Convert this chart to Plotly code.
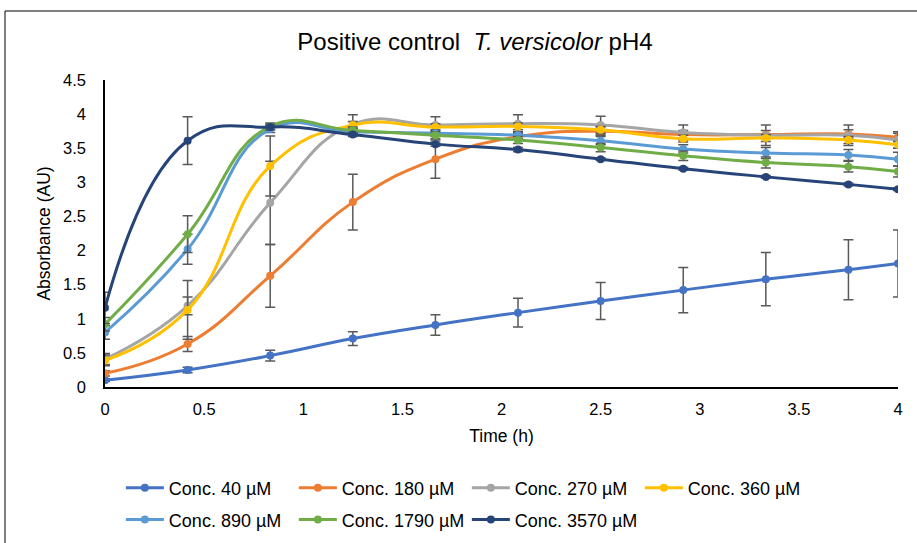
import plotly.graph_objects as go

time_h = [0, 0.4167, 0.8333, 1.25, 1.6667, 2.0833, 2.5, 2.9167, 3.3333, 3.75, 4.0]

series_names = ["Conc. 40 µM", "Conc. 180 µM", "Conc. 270 µM", "Conc. 360 µM",
                "Conc. 890 µM", "Conc. 1790 µM", "Conc. 3570 µM"]

conc_40 = [0.10, 0.25, 0.46, 0.71, 0.91, 1.09, 1.26, 1.42, 1.58, 1.72, 1.81]
conc_180 = [0.20, 0.63, 1.63, 2.71, 3.34, 3.67, 3.75, 3.70, 3.70, 3.71, 3.66]
conc_270 = [0.41, 1.19, 2.70, 3.85, 3.84, 3.86, 3.84, 3.73, 3.69, 3.69, 3.62]
conc_360 = [0.39, 1.13, 3.24, 3.84, 3.81, 3.82, 3.77, 3.64, 3.65, 3.62, 3.55]
conc_890 = [0.80, 2.02, 3.78, 3.74, 3.72, 3.69, 3.61, 3.49, 3.43, 3.40, 3.34]
conc_1790 = [0.92, 2.24, 3.82, 3.76, 3.69, 3.62, 3.51, 3.39, 3.29, 3.23, 3.16]
conc_3570 = [1.16, 3.61, 3.81, 3.70, 3.56, 3.48, 3.34, 3.20, 3.08, 2.97, 2.90]

err_40 = [0.02, 0.04, 0.08, 0.10, 0.15, 0.21, 0.27, 0.33, 0.39, 0.44, 0.49]
err_180 = [0.04, 0.11, 0.46, 0.41, 0.28, 0.05, 0.06, 0.06, 0.06, 0.06, 0.06]
err_270 = [0.08, 0.13, 0.61, 0.14, 0.12, 0.13, 0.13, 0.11, 0.15, 0.15, 0.12]
err_360 = [0.08, 0.43, 0.44, 0.05, 0.05, 0.05, 0.05, 0.05, 0.05, 0.05, 0.05]
err_890 = [0.10, 0.22, 0.05, 0.05, 0.05, 0.05, 0.06, 0.06, 0.08, 0.08, 0.10]
err_1790 = [0.10, 0.27, 0.05, 0.05, 0.05, 0.05, 0.06, 0.07, 0.08, 0.08, 0.08]
err_3570 = [0.23, 0.35, 0.04, 0.03, 0.03, 0.03, 0.02, 0.02, 0.02, 0.02, 0.02]

colors = ["#4472C4", "#ED7D31", "#A5A5A5", "#FFC000", "#5B9BD5", "#70AD47", "#264478"]

values = [conc_40, conc_180, conc_270, conc_360, conc_890, conc_1790, conc_3570]
errors = [err_40, err_180, err_270, err_360, err_890, err_1790, err_3570]

y_ticks = [0, 0.5, 1, 1.5, 2, 2.5, 3, 3.5, 4, 4.5]
x_ticks = [0, 0.5, 1, 1.5, 2, 2.5, 3, 3.5, 4]

FONT = "Liberation Sans, Arial, sans-serif"

fig = go.Figure()
for i, (name, vals, errs, col) in enumerate(zip(series_names, values, errors, colors)):
    fig.add_trace(go.Scatter(
        x=time_h, y=vals, name=name, mode="lines+markers",
        line=dict(color=col, width=3, shape="spline", smoothing=1.3),
        marker=dict(color=col, size=8, symbol="circle"),
        error_y=dict(type="data", array=errs, visible=True, color="#595959",
                     thickness=1.5, width=5),
        legend="legend" if i < 4 else "legend2",
    ))

fig.update_layout(
    width=917, height=543,
    margin=dict(l=105, r=19, t=80, b=156, autoexpand=False),
    paper_bgcolor="white", plot_bgcolor="white",
    font=dict(family=FONT, color="#000000", size=16),
    title=dict(text="Positive control  <i>T. versicolor</i> pH4",
               x=475 / 917, xanchor="center", y=1 - 42 / 543, yanchor="middle",
               font=dict(size=24, family=FONT, color="#000000")),
    showlegend=True,
    legend=dict(orientation="h", x=0.02, xanchor="left", y=-0.329, yanchor="middle",
                entrywidth=120, entrywidthmode="pixels", itemwidth=38,
                font=dict(size=18, family=FONT), bgcolor="rgba(0,0,0,0)"),
    legend2=dict(orientation="h", x=0.02, xanchor="left", y=-0.4326, yanchor="middle",
                 entrywidth=120, entrywidthmode="pixels", itemwidth=38,
                 font=dict(size=18, family=FONT), bgcolor="rgba(0,0,0,0)"),
)

fig.update_xaxes(range=[0, 4], tickvals=x_ticks, ticktext=[f"{v:g}" for v in x_ticks],
                 showgrid=False, zeroline=False, showline=True, linecolor="#000000",
                 linewidth=1.5, ticks="", ticklabelstandoff=6, automargin=False,
                 tickfont=dict(size=16.5, family=FONT),
                 title=dict(text="Time (h)", font=dict(size=17.5, family=FONT), standoff=13))
fig.update_yaxes(range=[0, 4.5], tickvals=y_ticks, ticktext=[f"{v:g}" for v in y_ticks],
                 showgrid=False, zeroline=False, showline=True, linecolor="#000000",
                 linewidth=1.5, ticks="", ticklabelstandoff=14, automargin=False,
                 tickfont=dict(size=16.5, family=FONT),
                 title=dict(text="Absorbance (AU)", font=dict(size=17.5, family=FONT), standoff=8))

# outer chart border (left and top visible; right and bottom beyond the crop)
fig.add_shape(type="rect", xref="paper", yref="paper",
              x0=(5 - 105) / 793, x1=(960 - 105) / 793,
              y0=(387 - 600) / 307, y1=(387 - 11) / 307,
              line=dict(color="#000000", width=1), fillcolor="rgba(0,0,0,0)", layer="below")

fig.write_html("out.html", config={"displayModeBar": False},
               post_script="document.body.style.margin='0px';document.body.style.overflow='hidden';")
